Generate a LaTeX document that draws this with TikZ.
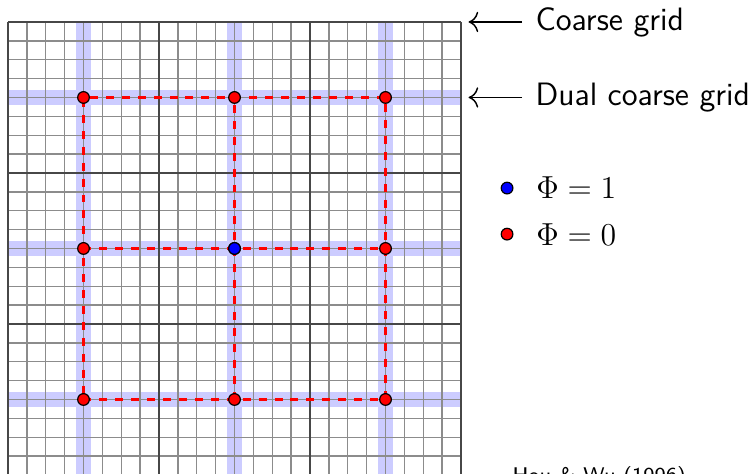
\documentclass[tikz,border=0pt]{standalone}
\usetikzlibrary{arrows.meta}
\begin{document}
\begin{tikzpicture}[
  fineline/.style={gray!90, line width=0.5pt},
  coarseline/.style={black!72, line width=1pt},
  band/.style={blue!20, line width=6pt},
  dualedge/.style={red, dashed, line width=0.9pt},
  dualpt/.style={circle, draw=black, line width=0.45pt, inner sep=0pt, minimum size=4.4pt},
  lbl/.style={font=\fontsize{12.2}{15}\selectfont\sffamily, anchor=west, inner sep=0pt},
  pointer/.style={-{Computer Modern Rightarrow[scale=1.3]}, line width=0.55pt},
  legendtxt/.style={font=\large, anchor=west, inner sep=0pt},
]
\useasboundingbox (-0.106,0.013) rectangle (9.894,6.291);
\clip (-0.106,0.013) rectangle (9.894,6.291);
% highlighted dual lines
\foreach \c in {1,3,5} {
  \draw[band] (\c,0) -- (\c,6);
  \draw[band] (0,\c) -- (6,\c);
}
% grids
\draw[fineline] (0,0) grid[step=0.25] (6,6);
\draw[coarseline] (0,0) grid[step=2] (6,6);
% dual points
\foreach \i/\x in {1/1,2/3,3/5} {
  \foreach \j/\y in {1/1,2/3,3/5} {
    \coordinate (p\i\j) at (\x,\y);
  }
}
\draw[dualedge] (p11) -- (p31) -- (p33) -- (p13) -- cycle;
\draw[dualedge] (p12) -- (p32);
\draw[dualedge] (p21) -- (p23);
\foreach \i in {1,2,3} {
  \foreach \j in {1,2,3} {
    \node[dualpt, fill=red] (d\i\j) at (p\i\j) {};
  }
}
\node[dualpt, fill=blue] (dc) at (p22) {};
% labels
\node[lbl] (cg) at (6.98,6) {Coarse grid};
\node[lbl] (dcg) at (6.98,5) {Dual coarse grid};
\coordinate (cgtip) at (6.1,6);
\coordinate (dcgtip) at (6.1,5);
\draw[pointer] ([xshift=-0.17cm]cg.west) -- (cgtip);
\draw[pointer] ([xshift=-0.17cm]dcg.west) -- (dcgtip);
% legend
\node[dualpt, fill=blue] (lb) at (6.61,3.8) {};
\node[legendtxt] (lbt) at (6.99,3.8) {$\Phi = 1$};
\node[dualpt, fill=red] (lr) at (6.61,3.19) {};
\node[legendtxt] (lrt) at (6.99,3.19) {$\Phi = 0$};
% citation
\node[font=\sffamily\footnotesize, anchor=base west, inner sep=0pt] (cite) at (6.675,-0.1) {Hou \& Wu (1996)};
\end{tikzpicture}
\end{document}
